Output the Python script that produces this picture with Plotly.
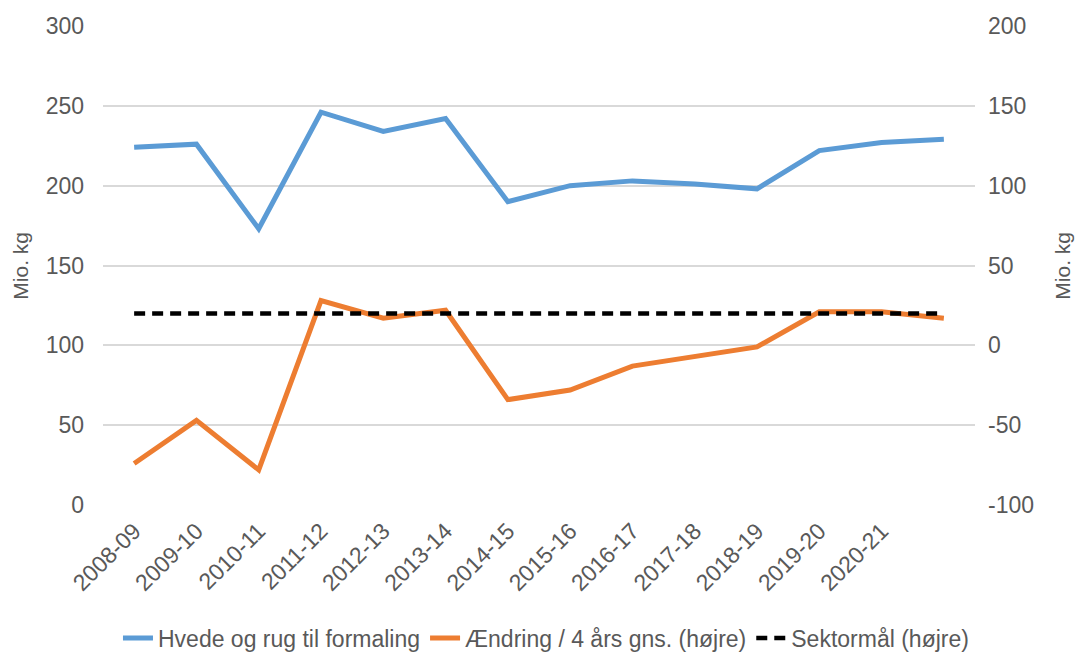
import plotly.graph_objects as go

years = ["2008-09", "2009-10", "2010-11", "2011-12", "2012-13", "2013-14", "2014-15",
         "2015-16", "2016-17", "2017-18", "2018-19", "2019-20", "2020-21", "2021-22"]
tick_labels = years[:13]
hvede = [224, 226, 173, 246, 234, 242, 190, 200, 203, 201, 198, 222, 227, 229]
aendring = [-74, -47, -78, 28, 17, 22, -34, -28, -13, -7, -1, 21, 21, 17]
sektormaal = [20] * 14

left_ticks = [0, 50, 100, 150, 200, 250, 300]
right_ticks = [-100, -50, 0, 50, 100, 150, 200]
right_tick_text = ["-100", "-50", "0", "50", "100", "150", "200"]

font = "Liberation Sans, Arial, sans-serif"
grey = "#595959"
fs = 23

fig = go.Figure()
fig.add_trace(go.Scatter(x=years, y=hvede, mode="lines", name="Hvede og rug til formaling",
                         line=dict(color="#5B9BD5", width=5)))
fig.add_trace(go.Scatter(x=years, y=aendring, mode="lines", name="Ændring / 4 års gns. (højre)",
                         line=dict(color="#ED7D31", width=5), yaxis="y2"))
fig.add_trace(go.Scatter(x=years, y=sektormaal, mode="lines", name="Sektormål (højre)",
                         line=dict(color="#000000", width=4.5, dash="11px,7px"), yaxis="y2"))

fig.update_layout(
    width=1075, height=652,
    margin=dict(l=103, r=100, t=26, b=147, autoexpand=False),
    plot_bgcolor="white", paper_bgcolor="white",
    font=dict(family=font, size=fs, color=grey),
    showlegend=True,
    legend=dict(orientation="h", x=0.508, xanchor="center", y=-0.278, yanchor="middle",
                font=dict(size=fs, color=grey), traceorder="normal",
                itemwidth=30, tracegroupgap=0),
    xaxis=dict(type="category", tickmode="array", tickvals=tick_labels, ticktext=tick_labels,
               range=[-0.5, 13.5], automargin=False, ticklabelstandoff=7,
               tickangle=-45, showgrid=False, showline=False, zeroline=False,
               tickfont=dict(size=fs, color=grey), ticks=""),
    yaxis=dict(range=[0, 300], tickmode="array", tickvals=left_ticks, automargin=False,
               showgrid=True, gridcolor="#D9D9D9", gridwidth=1.5,
               zeroline=False, showline=False, ticks="", ticklabelstandoff=18,
               tickfont=dict(size=fs, color=grey)),
    yaxis2=dict(range=[-100, 200], tickmode="array", tickvals=right_ticks, ticktext=right_tick_text,
                overlaying="y", side="right", showgrid=False, automargin=False,
                zeroline=False, showline=False, ticks="", ticklabelstandoff=12,
                tickfont=dict(size=fs, color=grey)),
    annotations=[
        dict(text="Mio. kg", xref="paper", yref="paper", x=-0.095, y=0.5, textangle=-90,
             showarrow=False, xanchor="center", yanchor="middle", font=dict(size=21, color=grey)),
        dict(text="Mio. kg", xref="paper", yref="paper", x=1.1, y=0.5, textangle=-90,
             showarrow=False, xanchor="center", yanchor="middle", font=dict(size=21, color=grey)),
    ],
)

fig.write_html("out.html", config={"displayModeBar": False},
               post_script="document.body.style.margin='0';document.body.style.overflow='hidden';")
